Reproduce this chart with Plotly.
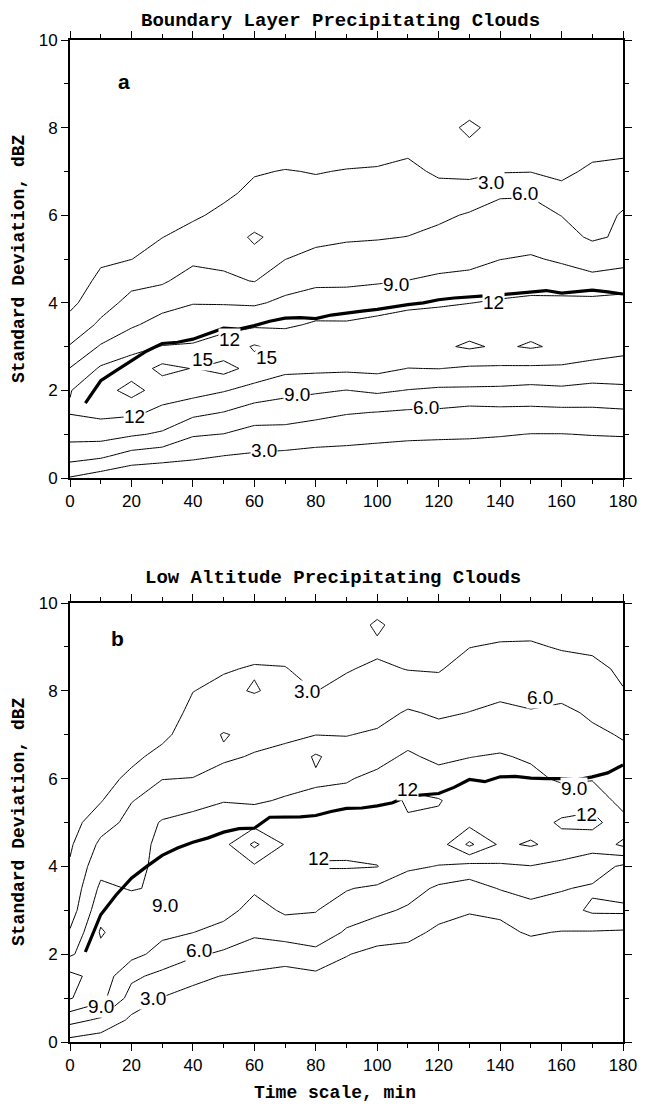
import plotly.graph_objects as go

# ---------------- data ----------------
time_grid = [0, 10, 20, 30, 40, 50, 60, 70, 80, 90, 100, 110, 120, 130, 140, 150, 160, 170, 180]
sd_grid = [0, 0.5, 1, 1.5, 2, 2.5, 3, 3.5, 4, 4.5, 5, 5.5, 6, 6.5, 7, 7.5, 8, 8.5, 9, 9.5, 10]

# frequency (%) columns, one per time value, listed bottom (sd=0) to top (sd=10)
freq_a_cols = [
    [2.8, 7.2, 10.0, 12.2, 11.9, 9.1, 6.2, 4.1, 2.3, 1.5, 1.0, 0.7, 0.5, 0.3, 0.2, 0.1, 0, 0, 0, 0, 0],
    [1.5, 6.5, 10.2, 12.8, 13.6, 12.4, 9.3, 6.5, 4.9, 3.6, 2.6, 1.8, 1.2, 0.8, 0.5, 0.3, 0.2, 0.1, 0, 0, 0],
    [0.5, 4.8, 9.4, 12.6, 16.2, 13.3, 11.2, 8.6, 6.8, 5.3, 2.95, 2.0, 1.3, 0.8, 0.5, 0.3, 0.2, 0.1, 0, 0, 0],
    [0.3, 4.2, 8.6, 11.3, 13.4, 15.8, 12.1, 10.1, 8.0, 5.6, 4.3, 2.95, 2.0, 1.2, 0.7, 0.4, 0.2, 0.1, 0, 0, 0],
    [0.2, 3.6, 6.3, 9.8, 13.2, 14.9, 12.3, 10.4, 8.9, 7.3, 5.4, 4.0, 2.6, 1.6, 1.0, 0.6, 0.3, 0.2, 0.1, 0, 0],
    [0.1, 2.95, 5.95, 8.95, 12.2, 16.0, 13.2, 11.2, 8.8, 6.5, 5.4, 4.6, 3.6, 2.5, 1.6, 1.0, 0.6, 0.3, 0.2, 0.1, 0],
    [0.1, 2.6, 5.0, 7.5, 11.0, 14.0, 15.3, 11.5, 8.6, 5.9, 5.2, 6.4, 4.6, 3.6, 2.8, 1.8, 1.0, 0.6, 0.3, 0.1, 0],
    [0.1, 2.3, 5.0, 7.3, 9.9, 12.8, 13.8, 11.6, 9.6, 7.8, 5.95, 5.0, 4.5, 3.9, 3.1, 2.0, 1.2, 0.6, 0.3, 0.1, 0],
    [0.1, 2.0, 4.5, 6.8, 9.4, 12.7, 14.2, 12.3, 10.6, 8.3, 6.9, 5.2, 4.3, 3.6, 2.9, 2.0, 1.2, 0.6, 0.3, 0.1, 0],
    [0.1, 1.9, 4.2, 6.2, 8.95, 12.6, 13.5, 12.3, 10.5, 8.4, 7.0, 5.7, 4.6, 3.9, 3.1, 2.2, 1.3, 0.7, 0.3, 0.1, 0],
    [0.1, 1.7, 3.9, 5.95, 9.5, 12.8, 14.0, 12.8, 10.8, 8.7, 7.3, 5.8, 4.8, 4.0, 3.2, 2.3, 1.4, 0.8, 0.4, 0.2, 0],
    [0.05, 1.6, 3.6, 5.6, 8.9, 11.95, 14.3, 13.4, 11.3, 9.05, 7.5, 6.05, 5.0, 4.2, 3.6, 2.6, 1.6, 0.9, 0.4, 0.2, 0],
    [0.05, 1.5, 3.5, 5.5, 8.5, 12.05, 14.5, 13.6, 11.6, 9.5, 8.0, 6.8, 5.4, 3.9, 2.6, 1.6, 1.0, 0.6, 0.3, 0.1, 0],
    [0.05, 1.5, 3.4, 5.0, 8.5, 11.6, 15.4, 13.8, 11.95, 9.6, 8.4, 7.2, 6.3, 4.2, 2.3, 1.8, 4.0, 1.0, 0.4, 0.2, 0],
    [0.05, 1.4, 3.2, 5.2, 8.4, 11.6, 14.6, 13.9, 12.3, 10.6, 8.95, 7.5, 6.6, 5.8, 2.8, 1.8, 1.2, 0.6, 0.3, 0.1, 0],
    [0.05, 1.3, 2.95, 5.2, 8.1, 11.5, 15.3, 14.0, 12.6, 10.8, 9.3, 7.8, 6.8, 5.8, 2.9, 1.9, 1.2, 0.6, 0.3, 0.1, 0],
    [0.05, 1.3, 2.95, 5.3, 8.4, 11.5, 14.5, 14.0, 12.7, 10.5, 8.6, 7.0, 5.95, 3.8, 2.4, 1.7, 1.1, 0.6, 0.3, 0.1, 0],
    [0.05, 1.4, 3.1, 5.4, 8.0, 11.0, 13.6, 14.0, 12.9, 9.8, 7.8, 5.6, 4.7, 4.2, 3.5, 2.3, 1.4, 0.8, 0.4, 0.2, 0],
    [0.05, 1.4, 3.2, 5.6, 8.3, 10.9, 12.8, 13.8, 13.0, 10.5, 8.0, 6.4, 6.3, 5.0, 3.6, 2.6, 1.6, 0.9, 0.5, 0.2, 0],
]

freq_b_cols = [
    [2.0, 7.0, 12.2, 12.8, 8.6, 6.3, 4.5, 3.8, 3.3, 2.6, 1.8, 1.3, 0.9, 0.6, 0.4, 0.2, 0.1, 0, 0, 0, 0],
    [1.2, 5.5, 10.0, 10.8, 11.2, 12.3, 11.0, 9.6, 8.0, 6.6, 4.8, 2.8, 2.0, 1.3, 0.8, 0.5, 0.3, 0.1, 0, 0, 0],
    [0.3, 2.4, 4.8, 6.6, 9.9, 10.2, 10.6, 8.8, 8.3, 7.6, 6.8, 5.9, 3.6, 2.4, 1.6, 1.0, 0.6, 0.3, 0.1, 0, 0],
    [0.2, 1.6, 2.9, 5.2, 8.0, 9.6, 10.4, 9.4, 9.6, 9.8, 9.3, 7.0, 5.95, 3.8, 2.4, 1.5, 0.9, 0.5, 0.2, 0.1, 0],
    [0.1, 1.2, 2.2, 3.6, 6.5, 9.05, 10.3, 10.8, 11.2, 10.6, 9.8, 8.2, 6.05, 5.0, 4.3, 3.7, 2.95, 1.9, 1.0, 0.5, 0.2],
    [0.1, 1.0, 1.9, 2.9, 5.5, 8.0, 10.0, 10.8, 11.5, 11.2, 10.2, 8.9, 7.0, 5.6, 6.2, 4.2, 3.6, 2.8, 1.8, 0.9, 0.4],
    [0.1, 0.9, 1.8, 2.6, 4.2, 6.6, 8.0, 9.4, 11.6, 15.6, 10.8, 8.6, 7.6, 6.2, 5.2, 4.5, 2.8, 3.2, 2.2, 1.1, 0.5],
    [0.1, 0.7, 1.4, 2.2, 4.0, 7.5, 9.4, 10.4, 11.0, 11.8, 10.6, 9.3, 7.8, 6.6, 5.6, 4.6, 3.8, 3.1, 2.2, 1.2, 0.5],
    [0.1, 0.7, 1.5, 2.4, 5.0, 8.0, 9.1, 10.2, 12.2, 11.4, 10.6, 9.6, 8.6, 9.4, 5.95, 4.4, 2.95, 2.2, 1.5, 0.8, 0.4],
    [0.1, 0.6, 1.3, 2.2, 3.1, 5.6, 7.6, 9.2, 12.3, 11.2, 10.3, 9.8, 8.8, 7.3, 5.9, 4.8, 3.8, 2.8, 1.8, 1.0, 0.4],
    [0.05, 0.5, 1.0, 1.7, 2.4, 4.0, 6.8, 8.4, 12.1, 10.5, 9.8, 9.5, 9.6, 8.2, 6.4, 5.0, 4.2, 3.5, 2.4, 3.6, 1.2],
    [0.05, 0.4, 0.9, 1.5, 2.3, 3.6, 5.5, 7.5, 9.4, 10.4, 11.5, 12.6, 11.0, 9.4, 8.0, 6.3, 4.5, 2.9, 1.9, 1.2, 0.6],
    [0.05, 0.4, 0.8, 1.3, 1.9, 2.6, 3.7, 5.4, 8.9, 10.6, 11.4, 12.2, 10.0, 8.4, 7.0, 5.6, 4.0, 2.8, 1.6, 0.8, 0.4],
    [0.05, 0.3, 0.7, 1.2, 1.8, 2.5, 3.1, 4.6, 8.0, 15.6, 11.0, 10.5, 10.0, 8.95, 7.6, 6.05, 5.0, 4.0, 2.95, 1.8, 0.9],
    [0.05, 0.3, 0.7, 1.2, 1.8, 2.6, 3.3, 6.2, 8.6, 11.5, 10.8, 10.4, 9.8, 9.2, 8.0, 6.6, 5.4, 4.4, 3.3, 2.0, 1.0],
    [0.05, 0.3, 0.8, 1.4, 2.1, 3.2, 5.0, 7.0, 8.9, 12.3, 10.8, 10.2, 9.6, 8.7, 7.2, 6.2, 5.0, 4.0, 3.3, 2.2, 1.1],
    [0.05, 0.3, 0.8, 1.3, 2.0, 2.9, 4.8, 6.2, 8.2, 11.0, 12.4, 10.5, 8.6, 7.8, 7.0, 6.6, 5.2, 4.0, 2.8, 1.8, 1.0],
    [0.05, 0.3, 0.7, 1.2, 1.9, 2.8, 6.5, 5.6, 7.5, 10.0, 13.0, 10.8, 8.8, 7.6, 6.5, 5.6, 4.6, 3.6, 2.6, 1.6, 0.8],
    [0.05, 0.3, 0.7, 1.2, 1.8, 2.6, 6.6, 4.8, 5.5, 12.6, 10.0, 8.0, 7.2, 6.6, 5.8, 4.6, 3.1, 2.6, 1.5, 0.8, 0.4],
]

mean_time = [5, 10, 15, 20, 25, 30, 35, 40, 45, 50, 55, 60, 65, 70, 75, 80, 85, 90,
             95, 100, 105, 110, 115, 120, 125, 130, 135, 140, 145, 150, 155, 160, 165, 170, 175, 180]
mean_a = [1.71, 2.22, 2.45, 2.68, 2.9, 3.07, 3.1, 3.17, 3.3, 3.42, 3.4, 3.48, 3.58, 3.65, 3.66, 3.64, 3.72, 3.77,
          3.81, 3.85, 3.91, 3.96, 4.0, 4.07, 4.11, 4.14, 4.16, 4.18, 4.21, 4.25, 4.28, 4.22, 4.25, 4.29, 4.25, 4.2]
mean_b = [2.05, 2.9, 3.35, 3.73, 4.0, 4.25, 4.42, 4.55, 4.65, 4.78, 4.86, 4.87, 5.12, 5.13, 5.13, 5.16, 5.25, 5.32,
          5.33, 5.38, 5.45, 5.6, 5.63, 5.66, 5.8, 5.98, 5.93, 6.04, 6.05, 6.01, 6.0, 6.0, 5.97, 6.04, 6.13, 6.31]

levels_start, levels_end, levels_step = 3, 15, 3

label_a_text = ["3.0", "6.0", "9.0", "12", "12", "15", "15", "9.0", "6.0", "12", "3.0"]
label_a_x = [137, 148, 106, 138, 52, 43, 64, 74, 116, 21, 63]
label_a_y = [6.75, 6.5, 4.42, 4.0, 3.16, 2.7, 2.74, 1.9, 1.6, 1.41, 0.62]

label_b_text = ["3.0", "6.0", "9.0", "12", "12", "12", "9.0", "6.0", "3.0", "9.0"]
label_b_x = [77, 153, 164, 168, 110, 81, 31, 42, 27, 10]
label_b_y = [7.98, 7.85, 5.78, 5.18, 5.75, 4.18, 3.12, 2.09, 0.99, 0.8]

panel_titles = ["Boundary Layer Precipitating Clouds", "Low Altitude Precipitating Clouds"]
panel_letters = ["a", "b"]
x_title = "Time scale, min"
y_title = "Standard Deviation, dBZ"

# ---------------- figure ----------------
def to_rows(cols):
    return [[col[i] for col in cols] for i in range(len(sd_grid))]

fig = go.Figure()
for cols, mean, xa, ya in [(freq_a_cols, mean_a, "x", "y"), (freq_b_cols, mean_b, "x2", "y2")]:
    fig.add_trace(go.Contour(
        x=time_grid, y=sd_grid, z=to_rows(cols), xaxis=xa, yaxis=ya,
        contours=dict(start=levels_start, end=levels_end, size=levels_step, coloring="lines", showlabels=False),
        line=dict(color="black", width=1, smoothing=0),
        colorscale=[[0, "black"], [1, "black"]], showscale=False, hoverinfo="skip"))
    fig.add_trace(go.Scatter(x=mean_time, y=mean, mode="lines", xaxis=xa, yaxis=ya,
                             line=dict(color="black", width=3.2), hoverinfo="skip", showlegend=False))

mono = "Liberation Mono"
sans = "Liberation Sans"
ann = []
for txt, xs, ys, xr, yr in [(label_a_text, label_a_x, label_a_y, "x", "y"),
                            (label_b_text, label_b_x, label_b_y, "x2", "y2")]:
    for t, xv, yv in zip(txt, xs, ys):
        ann.append(dict(text=t, x=xv, y=yv, xref=xr, yref=yr, showarrow=False,
                        xanchor="center", yanchor="middle",
                        font=dict(family=sans, size=19, color="black"),
                        bgcolor="white", borderpad=0))
for letter, xv, yv, xr, yr in [(panel_letters[0], 17.5, 9.05, "x", "y"), (panel_letters[1], 15.5, 9.2, "x2", "y2")]:
    ann.append(dict(text="<b>%s</b>" % letter, x=xv, y=yv, xref=xr, yref=yr, showarrow=False,
                    xanchor="center", yanchor="middle", font=dict(family=sans, size=21, color="black")))

def py(px):
    return (1042 - px) / 1002.0

def pxx(px):
    return (px - 70) / 564.0

ann.append(dict(text="<b>%s</b>" % panel_titles[0], x=pxx(346), y=py(21), xref="paper", yref="paper",
                xanchor="center", yanchor="middle", showarrow=False,
                font=dict(family=mono, size=19, color="black")))
ann.append(dict(text="<b>%s</b>" % panel_titles[1], x=pxx(338), y=py(578), xref="paper", yref="paper",
                xanchor="center", yanchor="middle", showarrow=False,
                font=dict(family=mono, size=19, color="black")))
ann.append(dict(text="<b>%s</b>" % x_title, x=pxx(340), y=py(1093), xref="paper", yref="paper",
                xanchor="center", yanchor="middle", showarrow=False,
                font=dict(family=mono, size=18, color="black")))
for yc in (259, 822):
    ann.append(dict(text="<b>%s</b>" % y_title, x=pxx(18), y=py(yc),
                    xref="paper", yref="paper", xanchor="center", yanchor="middle",
                    showarrow=False, textangle=-90,
                    font=dict(family=mono, size=18, color="black")))

xax = dict(range=[0, 180], tickmode="linear", tick0=0, dtick=20, ticks="outside", ticklen=7,
           tickwidth=1.3, tickcolor="black", showline=True, linewidth=1.8, linecolor="black",
           mirror="ticks", showgrid=False, zeroline=False,
           minor=dict(dtick=10, ticks="outside", ticklen=4, tickwidth=1, tickcolor="black"),
           tickfont=dict(family=sans, size=17, color="black"))
yax = dict(range=[0, 10], tickmode="linear", tick0=0, dtick=2, ticks="outside", ticklen=7,
           tickwidth=1.3, tickcolor="black", showline=True, linewidth=1.8, linecolor="black",
           mirror="ticks", showgrid=False, zeroline=False,
           minor=dict(dtick=1, ticks="outside", ticklen=4, tickwidth=1, tickcolor="black"),
           tickfont=dict(family=sans, size=17, color="black"))

fig.update_layout(
    width=649, height=1105, margin=dict(l=70, r=15, t=40, b=63),
    paper_bgcolor="white", plot_bgcolor="white", showlegend=False,
    xaxis=dict(xax, domain=[0, 1], anchor="y"),
    yaxis=dict(yax, domain=[1 - 438 / 1002.0, 1], anchor="x"),
    xaxis2=dict(xax, domain=[0, 1], anchor="y2"),
    yaxis2=dict(yax, domain=[0, 439 / 1002.0], anchor="x2"),
    annotations=ann,
)

fig.write_html("out.html")
